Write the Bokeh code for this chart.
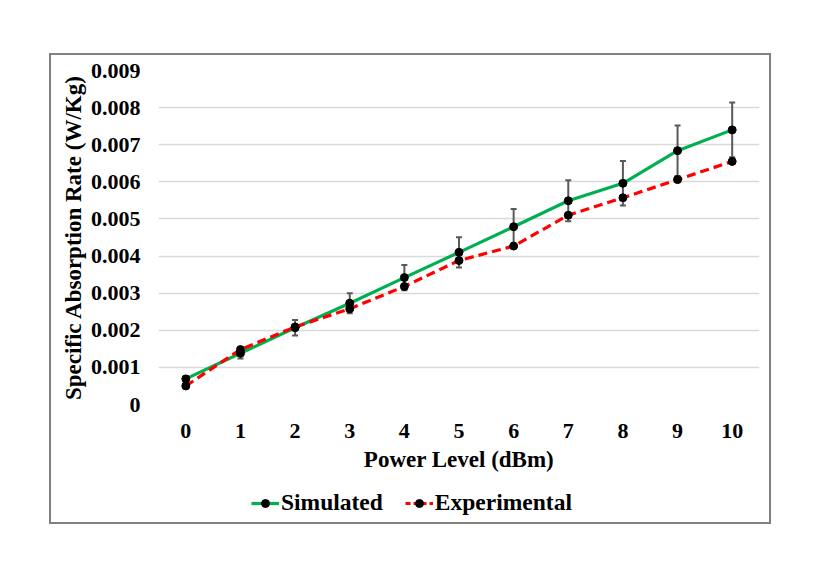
from bokeh.plotting import figure
from bokeh.layouts import column
from bokeh.models import (ColumnDataSource, Whisker, TeeHead, Legend, LegendItem,
                          FixedTicker, Range1d)
from bokeh.embed import file_html
from bokeh.resources import INLINE

# ---- data ----
power_levels = [0, 1, 2, 3, 4, 5, 6, 7, 8, 9, 10]
simulated = [0.00069, 0.00138, 0.00207, 0.00273, 0.00342, 0.0041, 0.00479,
             0.00549, 0.00596, 0.00684, 0.0074]
experimental = [0.0005, 0.00148, 0.00209, 0.00258, 0.00318, 0.00388, 0.00427,
                0.0051, 0.00557, 0.00606, 0.00655]
sim_error = [0.00007, 0.00014, 0.00021, 0.00027, 0.00034, 0.00041, 0.00048,
             0.00055, 0.0006, 0.00068, 0.00074]
y_ticks = [0.0, 0.001, 0.002, 0.003, 0.004, 0.005, 0.006, 0.007, 0.008, 0.009]
y_tick_labels = ["0", "0.001", "0.002", "0.003", "0.004", "0.005", "0.006",
                 "0.007", "0.008", "0.009"]
x_tick_labels = [str(v) for v in power_levels]
series_names = ["Simulated", "Experimental"]

FONT = "Liberation Serif"
SIM_COLOR = "#00B050"
EXP_COLOR = "#FF0000"
EXP_DASH = "9 5"

src = ColumnDataSource(dict(
    x=power_levels, sim=simulated, exp=experimental,
    upper=[s + e for s, e in zip(simulated, sim_error)],
    lower=[s - e for s, e in zip(simulated, sim_error)],
))

p = figure(width=718, height=425, output_backend="svg", toolbar_location=None,
           x_range=Range1d(-0.5, 10.5), y_range=Range1d(0, 0.009),
           min_border_left=107, min_border_right=10, min_border_top=15,
           min_border_bottom=76)
p.outline_line_color = None
p.background_fill_color = "white"
p.border_fill_color = "white"

# grid
p.xgrid.grid_line_color = None
p.ygrid.grid_line_color = "#D9D9D9"
p.ygrid.grid_line_width = 1.3
p.ygrid.ticker = FixedTicker(ticks=y_ticks)

# axes
p.xaxis.ticker = FixedTicker(ticks=power_levels)
p.xaxis.major_label_overrides = {v: l for v, l in zip(power_levels, x_tick_labels)}
p.yaxis.ticker = FixedTicker(ticks=y_ticks)
p.yaxis.major_label_overrides = {v: l for v, l in zip(y_ticks, y_tick_labels)}
for ax in (p.xaxis, p.yaxis):
    ax.axis_line_color = None
    ax.major_tick_line_color = None
    ax.minor_tick_line_color = None
    ax.major_tick_out = 0
    ax.major_tick_in = 0
    ax.minor_tick_out = 0
    ax.major_label_text_font = FONT
    ax.major_label_text_font_style = "bold"
    ax.major_label_text_font_size = "22px"
    ax.major_label_text_color = "black"
    ax.axis_label_text_font = FONT
    ax.axis_label_text_font_style = "bold"
    ax.axis_label_text_font_size = "23px"
    ax.axis_label_text_color = "black"
p.xaxis.axis_label = "Power Level (dBm)"
p.yaxis.axis_label = "Specific Absorption Rate (W/Kg)"
p.xaxis.major_label_standoff = 19
p.yaxis.major_label_standoff = 18
p.xaxis.axis_label_standoff = 6
p.yaxis.axis_label_standoff = 2

# error bars on simulated
wh = Whisker(source=src, base="x", upper="upper", lower="lower",
             line_color="#595959", line_width=2,
             upper_head=TeeHead(size=6, line_color="#595959", line_width=2),
             lower_head=TeeHead(size=6, line_color="#595959", line_width=2))
p.add_layout(wh)

# lines and markers
p.line("x", "sim", source=src, line_color=SIM_COLOR, line_width=3.2)
p.line("x", "exp", source=src, line_color=EXP_COLOR, line_width=3.2,
       line_dash=EXP_DASH)
p.scatter("x", "sim", source=src, size=8, fill_color="black", line_color="black")
p.scatter("x", "exp", source=src, size=8, fill_color="black", line_color="black")

# ---- legend strip (separate figure so the legend is not clipped) ----
# its ranges exclude the data, so only the legend glyphs show
lf = figure(width=718, height=42, output_backend="svg", toolbar_location=None,
            x_axis_type=None, y_axis_type=None,
            x_range=Range1d(100, 101), y_range=Range1d(100, 101),
            min_border_left=0, min_border_right=0, min_border_top=0,
            min_border_bottom=0)
lf.outline_line_color = None
lf.border_fill_color = "white"
l1 = lf.line("x", "sim", source=src, line_color=SIM_COLOR, line_width=3.2)
m1 = lf.scatter("x", "sim", source=src, size=6, fill_color="black", line_color="black")
l2 = lf.line("x", "exp", source=src, line_color=EXP_COLOR, line_width=3.2,
             line_dash="5 3")
m2 = lf.scatter("x", "exp", source=src, size=6, fill_color="black", line_color="black")

legend = Legend(items=[
    LegendItem(label=series_names[0], renderers=[l1, m1]),
    LegendItem(label=series_names[1], renderers=[l2, m2]),
], location=(93, 6), orientation="horizontal")
legend.border_line_color = None
legend.background_fill_alpha = 0
legend.label_text_font = FONT
legend.label_text_font_style = "bold"
legend.label_text_font_size = "23.5px"
legend.label_text_color = "black"
legend.glyph_width = 28
legend.glyph_height = 20
legend.spacing = 22
legend.padding = 0
legend.margin = 0
legend.label_standoff = 2
lf.add_layout(legend)

layout = column(p, lf, spacing=0)
layout.margin = (53, 0, 0, 49)
layout.styles = {"border": "2px solid #808080", "background-color": "white"}

open("out.html", "w").write(file_html(layout, INLINE))
